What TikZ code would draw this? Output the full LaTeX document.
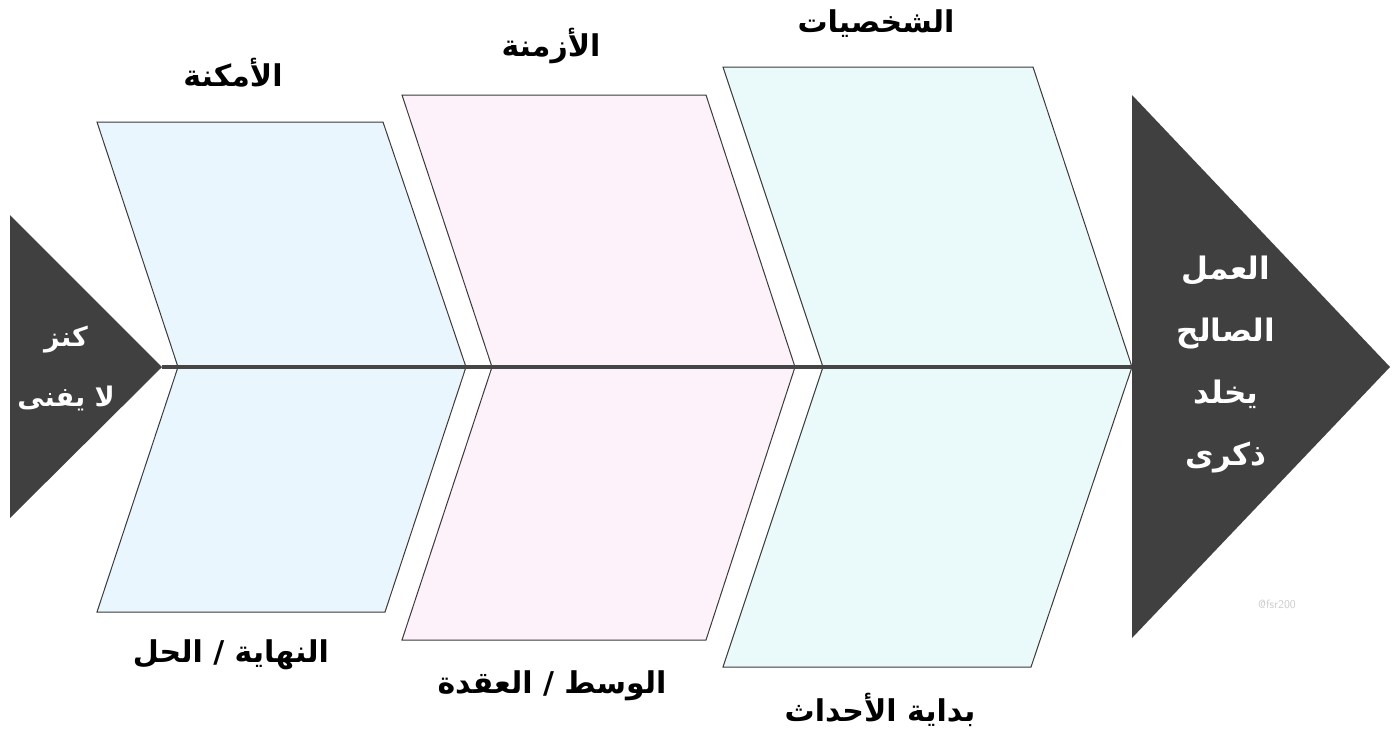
\documentclass[tikz,border=0pt]{standalone}
\usepackage{fontspec}
\newfontfamily\arabicfont[Script=Arabic]{DejaVu Sans}
\TeXXeTstate=1
\definecolor{darkfill}{HTML}{404040}
\definecolor{spinecol}{HTML}{454545}
\definecolor{bluefill}{HTML}{E9F6FE}
\definecolor{pinkfill}{HTML}{FDF1FA}
\definecolor{tealfill}{HTML}{EAF9F9}
\definecolor{edgecol}{HTML}{3A3A3A}
\tikzset{
  panel/.style={draw=edgecol, line width=1pt, line join=miter},
  head/.style={fill=darkfill, draw=none},
  cat/.style={font=\arabicfont\bfseries\fontsize{30}{36}\selectfont, text=black, inner sep=0pt},
  headtext/.style={font=\arabicfont\bfseries\fontsize{31}{62}\selectfont, text=white, align=center, inner sep=0pt},
  tailtext/.style={font=\arabicfont\bfseries\fontsize{27}{60}\selectfont, text=white, align=center, inner sep=0pt},
  wmark/.style={font=\sffamily\fontsize{12}{13}\selectfont, text=black!20, inner sep=0pt},
}
\begin{document}
\begin{tikzpicture}[x=1pt,y=-1pt]
\useasboundingbox (0,0) rectangle (1394,729);
% heads
\coordinate (tailapex) at (162,367);
\coordinate (headleft) at (1132,367);
\fill[head] (10,215) -- (tailapex) -- (10,518) -- cycle;
\fill[head] (1132,95) -- (1390,367) -- (1132,638) -- cycle;
% blue panels
\draw[panel, fill=bluefill] (97,122) -- (383,122) -- (466,367) -- (178,367) -- cycle;
\draw[panel, fill=bluefill] (178,367) -- (466,367) -- (385,612) -- (97,612) -- cycle;
% pink panels
\draw[panel, fill=pinkfill] (402,95) -- (706,95) -- (795,367) -- (492,367) -- cycle;
\draw[panel, fill=pinkfill] (492,367) -- (795,367) -- (706,640) -- (402,640) -- cycle;
% teal panels
\draw[panel, fill=tealfill] (723,67) -- (1033,67) -- (1132,367) -- (823,367) -- cycle;
\draw[panel, fill=tealfill] (823,367) -- (1132,367) -- (1031,667) -- (723,667) -- cycle;
% spine
\draw[spinecol, line width=4pt] (tailapex) -- (headleft);
% head texts
\node[tailtext] (tailtxt) at (66,368) {\beginR كنز\endR\\ \beginR لا يفنى\endR};
\node[headtext] (headtxt) at (1226,364) {\beginR العمل\endR\\ \beginR الصالح\endR\\ \beginR يخلد\endR\\ \beginR ذكرى\endR};
% category labels
\node[cat] (places) at (233,73) {\beginR الأمكنة\endR};
\node[cat] (times) at (551,46) {\beginR الأزمنة\endR};
\node[cat] (chars) at (876,24) {\beginR الشخصيات\endR};
\node[cat] (endres) at (231,655) {\beginR النهاية / الحل\endR};
\node[cat] (middle) at (552,686) {\beginR الوسط / العقدة\endR};
\node[cat] (begin) at (880,710) {\beginR بداية الأحداث\endR};
% watermark
\node[wmark] (wm) at (1277,604) {@fsr200};
\end{tikzpicture}
\end{document}
